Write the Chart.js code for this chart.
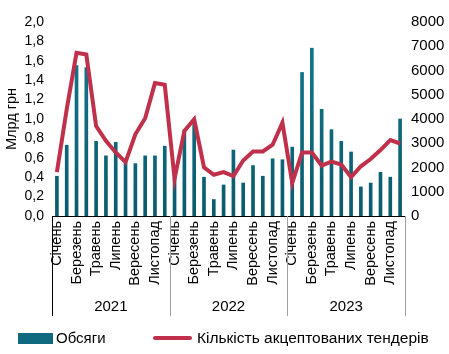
<!DOCTYPE html>
<html lang="uk">
<head>
  <meta charset="UTF-8">
  <title>Обсяги та кількість акцептованих тендерів</title>
  <style>
    html, body { margin: 0; padding: 0; background: #ffffff; }
    #wrap { width: 449px; height: 354px; position: relative; }
  </style>
</head>
<body>
  <div id="wrap"><canvas id="chart" width="449" height="354"></canvas></div>

  <script src="https://cdn.jsdelivr.net/npm/chart.js@4.4.3/dist/chart.umd.min.js"></script>
  <script>
    // Data
    const months = ['Січень', 'Лютий', 'Березень', 'Квітень', 'Травень', 'Червень',
                    'Липень', 'Серпень', 'Вересень', 'Жовтень', 'Листопад', 'Грудень'];
    const years = ['2021', '2022', '2023'];

    // Обсяги, млрд грн (left axis)
    const volumes = [
      0.41, 0.73, 1.55, 1.53, 0.77, 0.62, 0.76, 0.55, 0.54, 0.62, 0.62, 0.72,
      0.39, 0.88, 0.96, 0.40, 0.17, 0.32, 0.68, 0.34, 0.52, 0.41, 0.59, 0.58,
      0.71, 1.48, 1.73, 1.10, 0.89, 0.77, 0.66, 0.30, 0.34, 0.45, 0.40, 1.00
    ];
    // Кількість акцептованих тендерів (right axis)
    const tenders = [
      1810, 4400, 6730, 6660, 3710, 3100, 2620, 2220, 3370, 4030, 5480, 5410,
      1540, 3510, 3990, 2010, 1700, 1810, 1650, 2290, 2660, 2660, 2940, 3850,
      1360, 2620, 2620, 2080, 2240, 2120, 1600, 2050, 2350, 2720, 3130, 2990
    ];

    const labels = [];
    years.forEach(() => months.forEach(m => labels.push(m)));

    const TEAL = '#0f6a80';
    const RED = '#c1304b';
    const FONT = "'Liberation Sans', Arial, sans-serif";

    // Year labels, separators and legend under the axis
    const extras = {
      id: 'extras',
      afterDraw(chart) {
        const ctx = chart.ctx;
        const area = chart.chartArea;
        const w = (area.right - area.left) / labels.length;
        ctx.save();
        for (let i = 0; i <= years.length; i++) {
          const px = Math.round(area.left + i * 12 * w) + 0.5;
          ctx.strokeStyle = i === 0 ? '#000000' : '#a0a0a0';
          ctx.lineWidth = 1;
          ctx.beginPath();
          ctx.moveTo(px, area.bottom);
          ctx.lineTo(px, 316);
          ctx.stroke();
        }
        ctx.fillStyle = '#000000';
        ctx.font = '15px ' + FONT;
        ctx.textAlign = 'center';
        ctx.textBaseline = 'middle';
        years.forEach((y, i) => {
          ctx.fillText(y, area.left + (i * 12 + 6) * w, 307);
        });

        // legend
        ctx.fillStyle = TEAL;
        ctx.fillRect(18, 333, 35, 11);
        ctx.fillStyle = '#000000';
        ctx.textAlign = 'left';
        ctx.fillText('Обсяги', 56, 339);
        ctx.strokeStyle = RED;
        ctx.lineWidth = 4;
        ctx.lineCap = 'round';
        ctx.beginPath();
        ctx.moveTo(155, 338);
        ctx.lineTo(190, 338);
        ctx.stroke();
        ctx.font = '15.5px ' + FONT;
        ctx.fillText('Кількість акцептованих тендерів', 197, 339);
        ctx.restore();
      }
    };

    const ctx = document.getElementById('chart').getContext('2d');
    new Chart(ctx, {
      data: {
        labels: labels,
        datasets: [
          {
            type: 'line',
            label: 'Кількість акцептованих тендерів',
            data: tenders,
            yAxisID: 'y2',
            borderColor: RED,
            borderWidth: 4,
            pointRadius: 0,
            tension: 0,
            fill: false,
            order: 0
          },
          {
            type: 'bar',
            label: 'Обсяги',
            data: volumes,
            yAxisID: 'y',
            backgroundColor: (c) => {
              const a = c.chart.chartArea;
              if (!a) return TEAL;
              const g = c.chart.ctx.createLinearGradient(0, a.top, 0, a.bottom);
              g.addColorStop(0, '#137a92');
              g.addColorStop(1, '#0b5a6c');
              return g;
            },
            barThickness: 3,
            order: 1
          }
        ]
      },
      options: {
        responsive: false,
        animation: false,
        layout: { padding: { top: 22, left: 0, right: 0, bottom: 0 } },
        plugins: {
          legend: { display: false },
          tooltip: { enabled: false }
        },
        scales: {
          x: {
            grid: { display: false, drawTicks: false },
            border: { display: true, color: '#000000' },
            ticks: {
              autoSkip: false,
              maxRotation: 90,
              minRotation: 90,
              padding: 5,
              color: '#000000',
              font: { family: FONT, size: 14.5 },
              callback: (v, i) => (i % 2 === 0 ? labels[i] : '')
            },
            afterFit: (s) => { s.height = 138; }
          },
          y: {
            position: 'left',
            min: 0,
            max: 2,
            grid: { display: false, drawTicks: false },
            border: { display: false },
            ticks: {
              autoSkip: false,
              stepSize: 0.2,
              padding: 8,
              color: '#000000',
              font: { family: FONT, size: 14 },
              callback: (v) => v.toFixed(1).replace('.', ',')
            },
            title: {
              display: true,
              text: 'Млрд грн',
              color: '#000000',
              padding: { top: 3, bottom: 0 },
              font: { family: FONT, size: 14.5 }
            },
            afterFit: (s) => { s.width = 52; }
          },
          y2: {
            position: 'right',
            min: 0,
            max: 8000,
            grid: { display: false, drawTicks: false },
            border: { display: false },
            ticks: {
              autoSkip: false,
              stepSize: 1000,
              padding: 6,
              color: '#000000',
              font: { family: FONT, size: 15 },
              callback: (v) => String(v)
            },
            afterFit: (s) => { s.width = 44; }
          }
        }
      },
      plugins: [extras]
    });
  </script>
</body>
</html>
